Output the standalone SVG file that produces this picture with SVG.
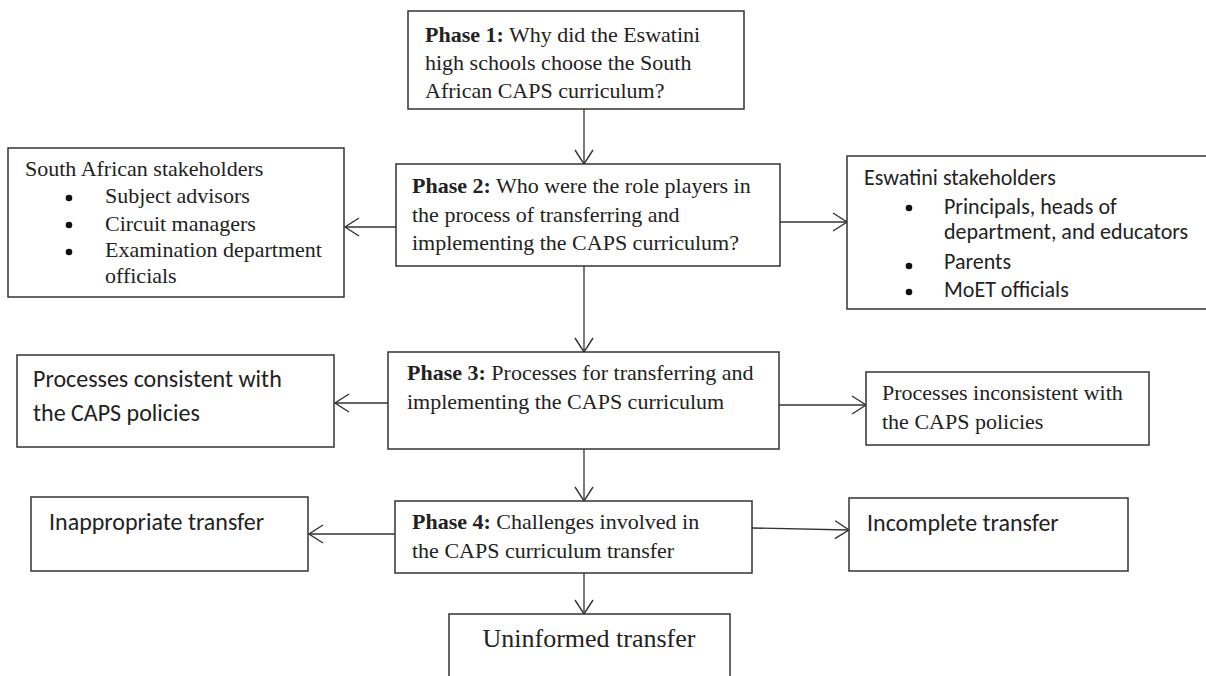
<svg xmlns="http://www.w3.org/2000/svg" width="1206" height="676" viewBox="0 0 1206 676">
<style>
.box{fill:#fff;stroke:#333;stroke-width:1.5}
.serif{font-family:"Liberation Serif","Times New Roman",serif;font-size:22px;fill:#222}
.sans{font-family:Carlito,Lato,"Liberation Sans",sans-serif;font-size:22px;fill:#222}
.big{font-size:24px}
.b{font-weight:bold}
.conn{stroke:#333;stroke-width:1.3;fill:none;marker-end:url(#arr)}
.dot{fill:#111}
</style>
<defs>
<marker id="arr" markerUnits="userSpaceOnUse" markerWidth="18" markerHeight="22" refX="15" refY="10" orient="auto">
<path d="M1,1 L15,10 L1,19" fill="none" stroke="#333" stroke-width="1.4"/>
</marker>
</defs>
<rect width="1206" height="676" fill="#fff"/>
<g id="connectors">
<line class="conn" x1="584" y1="109" x2="584" y2="164"/>
<line class="conn" x1="396" y1="227" x2="345" y2="227"/>
<line class="conn" x1="780" y1="222" x2="847" y2="222"/>
<line class="conn" x1="584" y1="266" x2="584" y2="352"/>
<line class="conn" x1="388" y1="403" x2="335" y2="403"/>
<line class="conn" x1="779" y1="405" x2="866" y2="405"/>
<line class="conn" x1="584" y1="449" x2="584" y2="501"/>
<line class="conn" x1="395" y1="534" x2="309" y2="534"/>
<line class="conn" x1="752" y1="528" x2="849" y2="530"/>
<line class="conn" x1="584" y1="573" x2="584" y2="614"/>
</g>
<g id="phase1">
<rect class="box" x="408" y="11" width="336" height="98"/>
<text class="serif" x="425" y="42"><tspan class="b">Phase 1:</tspan> Why did the Eswatini</text>
<text class="serif" x="425" y="70">high schools choose the South</text>
<text class="serif" x="425" y="98">African CAPS curriculum?</text>
</g>
<g id="phase2">
<rect class="box" x="396" y="164" width="384" height="102"/>
<text class="serif" x="412" y="193"><tspan class="b">Phase 2:</tspan> Who were the role players in</text>
<text class="serif" x="412" y="222">the process of transferring and</text>
<text class="serif" x="412" y="250">implementing the CAPS curriculum?</text>
</g>
<g id="sa-stakeholders">
<rect class="box" x="8" y="148" width="336" height="149"/>
<text class="serif" x="25" y="176">South African stakeholders</text>
<circle class="dot" cx="69" cy="198" r="3.3"/>
<circle class="dot" cx="69" cy="225" r="3.3"/>
<circle class="dot" cx="69" cy="252" r="3.3"/>
<text class="serif" x="105" y="203">Subject advisors</text>
<text class="serif" x="105" y="231">Circuit managers</text>
<text class="serif" x="105" y="257">Examination department</text>
<text class="serif" x="105" y="283">officials</text>
</g>
<g id="eswatini-stakeholders">
<rect class="box" x="847" y="156" width="365" height="153"/>
<text class="sans" x="864" y="185">Eswatini stakeholders</text>
<circle class="dot" cx="909" cy="208" r="3.3"/>
<circle class="dot" cx="909" cy="266" r="3.3"/>
<circle class="dot" cx="909" cy="292" r="3.3"/>
<text class="sans" x="944" y="214">Principals, heads of</text>
<text class="sans" x="944" y="239">department, and educators</text>
<text class="sans" x="944" y="269">Parents</text>
<text class="sans" x="944" y="297">MoET officials</text>
</g>
<g id="phase3">
<rect class="box" x="388" y="352" width="391" height="97"/>
<text class="serif" x="407" y="380"><tspan class="b">Phase 3:</tspan> Processes for transferring and</text>
<text class="serif" x="407" y="409">implementing the CAPS curriculum</text>
</g>
<g id="consistent">
<rect class="box" x="17" y="355" width="317" height="92"/>
<text class="sans big" x="33" y="387">Processes consistent with</text>
<text class="sans big" x="33" y="421">the CAPS policies</text>
</g>
<g id="inconsistent">
<rect class="box" x="866" y="372" width="283" height="73"/>
<text class="serif" x="882" y="400">Processes inconsistent with</text>
<text class="serif" x="882" y="429">the CAPS policies</text>
</g>
<g id="phase4">
<rect class="box" x="395" y="501" width="357" height="72"/>
<text class="serif" x="412" y="529"><tspan class="b">Phase 4:</tspan> Challenges involved in</text>
<text class="serif" x="412" y="558">the CAPS curriculum transfer</text>
</g>
<g id="inappropriate">
<rect class="box" x="31" y="497" width="277" height="74"/>
<text class="sans big" x="49" y="530">Inappropriate transfer</text>
</g>
<g id="incomplete">
<rect class="box" x="849" y="498" width="279" height="73"/>
<text class="sans big" x="867" y="531">Incomplete transfer</text>
</g>
<g id="uninformed">
<rect class="box" x="449" y="614" width="281" height="80"/>
<text class="serif" x="589" y="647" text-anchor="middle" style="font-size:26px">Uninformed transfer</text>
</g>
</svg>
